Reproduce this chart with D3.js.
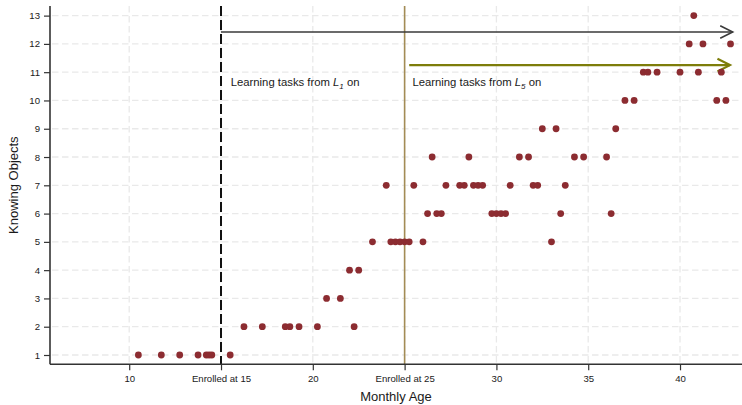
<!DOCTYPE html>
<html>
<head>
<meta charset="utf-8">
<script src="https://cdn.jsdelivr.net/npm/d3@7/dist/d3.min.js"></script>
<style>
  html, body { margin: 0; padding: 0; background: #ffffff; }
  svg { display: block; font-family: "Liberation Sans", Arial, sans-serif; }
</style>
</head>
<body>
<svg id="chart" width="742" height="405"></svg>
<script>
// Monthly age of each observation and the number of objects known at that age
const ages = [
  10.5, 11.75, 12.75, 13.75, 14.2, 14.35, 14.5, 15.5,
  16.25, 17.25, 18.5, 18.75, 19.25, 20.25, 22.25,
  20.75, 21.5,
  22.0, 22.5,
  23.25, 24.25, 24.5, 24.75, 25.0, 25.25, 26.0, 33.0,
  26.25, 26.75, 27.0, 29.75, 30.0, 30.25, 30.5, 33.5, 36.25,
  24.0, 25.5, 27.25, 28.0, 28.25, 28.75, 29.0, 29.25, 30.75, 32.0, 32.25, 33.75,
  26.5, 28.5, 31.25, 31.75, 34.25, 34.75, 36.0,
  32.5, 33.25, 36.5,
  37.0, 37.5, 42.0, 42.5,
  38.0, 38.25, 38.75, 40.0, 41.0, 42.25,
  40.5, 41.25, 42.75,
  40.75
];
const knowing = [
  1, 1, 1, 1, 1, 1, 1, 1,
  2, 2, 2, 2, 2, 2, 2,
  3, 3,
  4, 4,
  5, 5, 5, 5, 5, 5, 5, 5,
  6, 6, 6, 6, 6, 6, 6, 6, 6,
  7, 7, 7, 7, 7, 7, 7, 7, 7, 7, 7, 7,
  8, 8, 8, 8, 8, 8, 8,
  9, 9, 9,
  10, 10, 10, 10,
  11, 11, 11, 11, 11, 11,
  12, 12, 12,
  13
];

// Axis ticks
const xTicks = [10, 15, 20, 25, 30, 35, 40];
const xTickLabels = ["10", "Enrolled at 15", "20", "Enrolled at 25", "30", "35", "40"];
const yTicks = [1, 2, 3, 4, 5, 6, 7, 8, 9, 10, 11, 12, 13];

// Enrolment ages and the task-range arrows that start there
const enrolAges = [15, 25];
const arrowFrom = [15, 25.25];
const arrowTo = [42.87, 42.72];
const arrowLevel = [12.42, 11.25];
const arrowLevelText = [10.5, 10.5];
const arrowSub = ["1", "5"];

const svg = d3.select("#chart");
const plotL = 50, plotR = 742, plotT = 6, plotB = 364.3;

const x = d3.scaleLinear().domain([5.686, 43.376]).range([plotL, plotR]);
const y = d3.scaleLinear().domain([0.671, 13.34]).range([plotB, plotT]);

// Grid
const grid = svg.append("g").attr("stroke", "#e9e9e9").attr("stroke-width", 1.3)
  .attr("stroke-dasharray", "6.5,3.5");
grid.selectAll("line.h").data(yTicks).join("line")
  .attr("x1", plotL + 2).attr("x2", plotR)
  .attr("y1", d => y(d)).attr("y2", d => y(d));
grid.selectAll("line.v").data(xTicks).join("line")
  .attr("y1", plotT).attr("y2", plotB - 1)
  .attr("x1", d => x(d)).attr("x2", d => x(d));

// Enrolment markers
svg.append("line")
  .attr("x1", x(enrolAges[0])).attr("x2", x(enrolAges[0]))
  .attr("y1", plotT).attr("y2", plotB)
  .attr("stroke", "#111").attr("stroke-width", 2).attr("stroke-dasharray", "10,4");
svg.append("line")
  .attr("x1", x(enrolAges[1])).attr("x2", x(enrolAges[1]))
  .attr("y1", plotT).attr("y2", plotB)
  .attr("stroke", "#a38c55").attr("stroke-width", 1.6);

// Arrows
const arrowColors = ["#3a3a3a", "#7d7d0a"];
const arrowWidths = [1.6, 2.2];
arrowFrom.forEach((a, i) => {
  const g = svg.append("g").attr("stroke", arrowColors[i]).attr("stroke-width", arrowWidths[i])
    .attr("fill", "none");
  const ya = y(arrowLevel[i]);
  const x0 = x(a), x1 = x(arrowTo[i]);
  g.append("line").attr("x1", x0).attr("x2", x1).attr("y1", ya).attr("y2", ya);
  g.append("polyline")
    .attr("points", `${x1 - 12.5},${ya - 6.3} ${x1},${ya} ${x1 - 12.5},${ya + 6.3}`);
});

// Annotations
arrowFrom.forEach((a, i) => {
  const t = svg.append("text")
    .attr("x", x(enrolAges[i]) + (i === 0 ? 9.7 : 7.8))
    .attr("y", y(arrowLevelText[i]))
    .attr("font-size", 11.3).attr("fill", "#1a1a1a");
  t.append("tspan").text("Learning tasks from ");
  t.append("tspan").attr("font-style", "italic").text("L");
  t.append("tspan").attr("font-style", "italic").attr("font-size", 8).attr("dy", 2.5)
    .text(arrowSub[i]);
  t.append("tspan").attr("dy", -2.5).text(" on");
});

// Points
svg.append("g").selectAll("circle").data(ages).join("circle")
  .attr("cx", d => x(d))
  .attr("cy", (d, i) => y(knowing[i]))
  .attr("r", 3.4)
  .attr("fill", "#8c2c31");

// Axes
const xAxis = d3.axisBottom(x).tickValues(xTicks)
  .tickFormat((d, i) => xTickLabels[i]).tickSize(6).tickPadding(4.5);
const gx = svg.append("g").attr("transform", `translate(0,${plotB})`).call(xAxis);
gx.select(".domain").attr("d", `M${plotL},0H${plotR}`);

const yAxis = d3.axisLeft(y).tickValues(yTicks).tickSize(6).tickPadding(4);
const gy = svg.append("g").attr("transform", `translate(${plotL},0)`).call(yAxis);
gy.select(".domain").attr("d", `M0,${plotT}V${plotB}`);

[gx, gy].forEach(g => {
  g.select(".domain").attr("stroke", "#333").attr("stroke-width", 1.6);
  g.selectAll(".tick line").attr("stroke", "#333").attr("stroke-width", 1.2);
  g.selectAll(".tick text").attr("font-size", 9.6).attr("fill", "#1a1a1a")
    .attr("font-family", "'Liberation Sans', Arial, sans-serif");
});

// Axis titles
svg.append("text")
  .attr("x", (plotL + plotR) / 2).attr("y", 400.5)
  .attr("text-anchor", "middle").attr("font-size", 13).attr("fill", "#1a1a1a")
  .text("Monthly Age");
svg.append("text")
  .attr("transform", `translate(17.5,${(plotT + plotB) / 2}) rotate(-90)`)
  .attr("text-anchor", "middle").attr("font-size", 13).attr("fill", "#1a1a1a")
  .text("Knowing Objects");
</script>
</body>
</html>
